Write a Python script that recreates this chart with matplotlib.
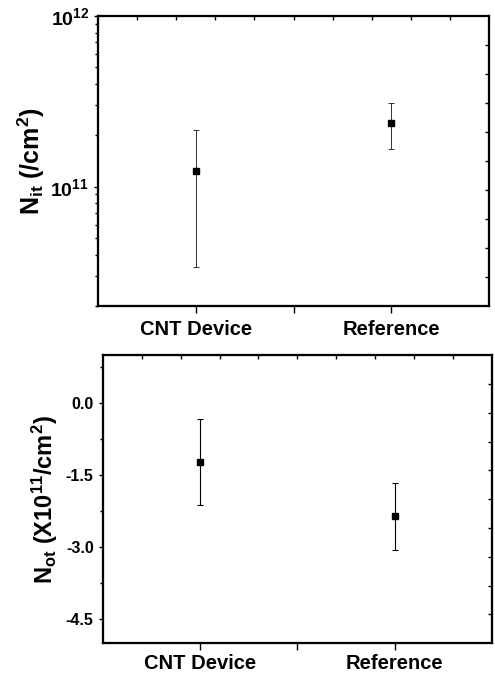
'''Interface and oxide trap densities: CNT device vs reference'''

import matplotlib
matplotlib.use("Agg")
import matplotlib.pyplot as plt
import numpy as np

plt.rcParams["font.family"] = ["Liberation Sans", "DejaVu Sans"]
plt.rcParams["font.weight"] = "bold"
plt.rcParams["mathtext.fontset"] = "custom"
plt.rcParams["mathtext.rm"] = "Liberation Sans:bold"
plt.rcParams["mathtext.bf"] = "Liberation Sans:bold"
plt.rcParams["mathtext.it"] = "Liberation Sans:bold"

# data
devices = ["CNT Device", "Reference"]
nit = [1.24e11, 2.37e11]
nit_err = [0.90e11, 0.71e11]
not_vals = [-1.23, -2.36]
not_err = [0.90, 0.70]

xpos = np.arange(1, len(devices) + 1)

fig = plt.figure(figsize=(4.95, 6.75), dpi=100)
ax1 = fig.add_axes([0.198, 0.5467, 0.790, 0.4296])
ax2 = fig.add_axes([0.2075, 0.047, 0.7865, 0.427])


def style_axes(ax):
	for s in ax.spines.values():
		s.set_linewidth(1.5)
	ax.set_xlim(0.5, 2.5)
	ax.set_xticks(xpos)
	ax.set_xticklabels(devices, fontsize=14.5, fontweight="bold")
	ax.set_xticks([1.5], minor=True)
	ax.tick_params(axis="x", which="both", direction="out", length=5, width=1, pad=3)
	ax.tick_params(axis="y", which="major", direction="out", length=3, width=1, labelsize=10)
	ax.tick_params(axis="y", which="minor", direction="out", length=2, width=1)
	# top ticks
	top = ax.twiny()
	top.set_xlim(0.5, 2.5)
	top.set_xticks(np.arange(0.7, 2.4, 0.2))
	top.set_xticklabels([])
	top.tick_params(axis="x", direction="in", length=3, width=1)
	# right ticks
	right = ax.twinx()
	right.set_ylim(0, 1)
	right.set_yticks(np.arange(0.1, 0.95, 0.1))
	right.set_yticklabels([])
	right.tick_params(axis="y", direction="in", length=3, width=1)
	for t in (top, right):
		for s in t.spines.values():
			s.set_linewidth(1.5)


# top panel: Nit (log)
ax1.errorbar(xpos, nit, yerr=nit_err, fmt="s", color="black", ms=4,
			 ecolor="#333333", elinewidth=0.7, capsize=2, capthick=0.7)
ax1.set_yscale("log")
ax1.set_ylim(2e10, 1e12)
ax1.set_yticks([1e11, 1e12])
ax1.set_yticklabels([r"$\mathbf{10^{11}}$", r"$\mathbf{10^{12}}$"])
ax1.set_ylabel(r"N$_{\mathbf{it}}$ (/cm$^{\mathbf{2}}$)", fontsize=18, fontweight="bold", labelpad=2)
style_axes(ax1)
ax1.tick_params(axis="y", which="major", labelsize=14)
ax1.tick_params(axis="x", which="both", pad=5)

# bottom panel: Not (linear)
ax2.errorbar(xpos, not_vals, yerr=not_err, fmt="s", color="black", ms=4,
			 ecolor="black", elinewidth=0.8, capsize=2, capthick=0.8)
ax2.set_ylim(-5, 1)
ax2.set_yticks([-4.5, -3.0, -1.5, 0.0])
ax2.set_yticklabels(["-4.5", "-3.0", "-1.5", "0.0"], fontweight="bold")
ax2.set_yticks(np.arange(-3.75, 1, 1.5), minor=True)
ax2.set_ylabel(r"N$_{\mathbf{ot}}$ $\mathregular{(X10^{11}/cm^{2})}$", fontsize=17, fontweight="bold", labelpad=4)
style_axes(ax2)
ax2.tick_params(axis="y", which="major", labelsize=11.5)

fig.savefig("out.png", dpi=100)
